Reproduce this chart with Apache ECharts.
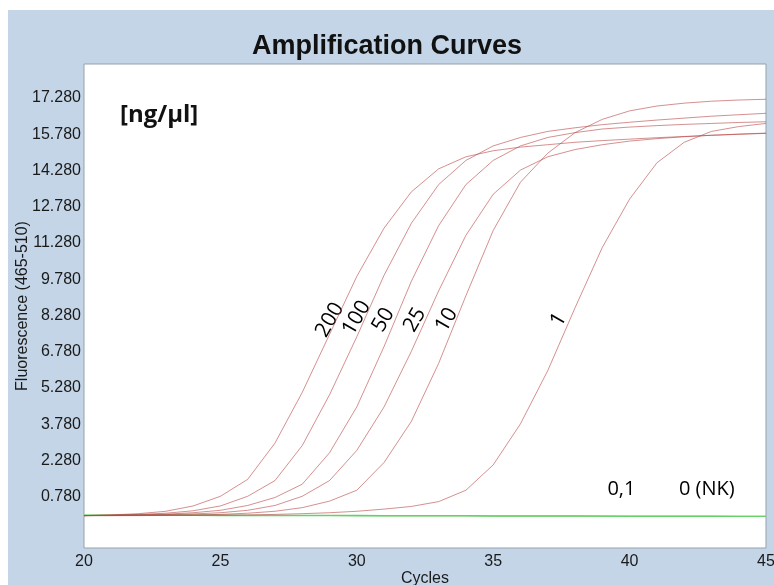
<!DOCTYPE html>
<html>
<head>
<meta charset="utf-8">
<script src="https://cdn.jsdelivr.net/npm/echarts@6/dist/echarts.min.js"></script>
<style>
html,body{margin:0;padding:0;background:#fff;}
#chart{width:774px;height:585px;}
</style>
</head>
<body>
<div id="chart"></div>
<script>
// ---- data ----
const cycles = [20,21,22,23,24,25,26,27,28,29,30,31,32,33,34,35,36,37,38,39,40,41,42,43,44,45];
const c200 = [0.00,0.03,0.08,0.18,0.40,0.80,1.50,3.00,5.10,7.50,9.90,11.90,13.40,14.35,14.85,15.10,15.25,15.35,15.45,15.52,15.58,15.64,15.69,15.74,15.78,15.82];
const c100 = [0.00,0.02,0.05,0.10,0.20,0.40,0.80,1.45,2.90,5.00,7.40,9.95,12.10,13.70,14.70,15.30,15.65,15.90,16.05,16.18,16.28,16.37,16.45,16.53,16.59,16.65];
const c50  = [0.00,0.01,0.03,0.06,0.12,0.22,0.42,0.75,1.30,2.60,4.50,7.00,9.70,12.00,13.70,14.70,15.30,15.65,15.85,16.00,16.08,16.14,16.19,16.23,16.27,16.30];
const c25  = [0.00,0.01,0.02,0.04,0.07,0.12,0.22,0.42,0.80,1.45,2.70,4.50,6.80,9.30,11.60,13.30,14.30,14.85,15.15,15.35,15.50,15.60,15.68,15.74,15.79,15.83];
const c10  = [0.00,0.00,0.01,0.02,0.03,0.05,0.10,0.18,0.33,0.60,1.05,2.20,3.90,6.30,9.10,11.80,13.80,15.00,15.85,16.40,16.75,16.95,17.07,17.15,17.20,17.23];
const c1   = [0.00,0.00,0.00,0.01,0.01,0.02,0.03,0.05,0.08,0.12,0.18,0.27,0.38,0.58,1.05,2.10,3.80,6.00,8.60,11.10,13.10,14.60,15.45,15.90,16.10,16.23];
const c01  = [0.02,0.02,0.02,0.02,0.02,0.02,0.01,0.01,0.01,0.01,0.01,0.00,0.00,0.00,0.00,-0.01,-0.01,-0.01,-0.01,-0.02,-0.02,-0.02,-0.02,-0.02,-0.03,-0.03];
const cNK  = [0.01,0.01,0.01,0.01,0.01,0.00,0.00,0.00,0.00,0.00,-0.01,-0.01,-0.01,-0.01,-0.01,-0.02,-0.02,-0.02,-0.02,-0.02,-0.03,-0.03,-0.03,-0.03,-0.03,-0.03];
const yTicks = [0.78,2.28,3.78,5.28,6.78,8.28,9.78,11.28,12.78,14.28,15.78,17.28];
const xTicks = [20,25,30,35,40,45];
const curveNames = ['200','100','50','25','10','1'];
const curveAnchors = [[29.01,8.10],[29.99,8.18],[30.97,8.10],[32.13,8.10],[33.29,8.10],[37.40,8.10]];
const flatNames = ['0,1','0 (NK)'];
const flatAnchors = [[39.70,1.11],[42.83,1.11]];

const pair = arr => cycles.map((c,i)=>[c,arr[i]]);
const redLine = {width:1, color:'rgba(185,70,70,0.6)'};
const greenLine = {width:1.4, color:'#66d166'};

const chart = echarts.init(document.getElementById('chart'), null, {renderer:'canvas'});
const font = 'Liberation Sans, Arial, sans-serif';
const lblFont = '"Open Sans", sans-serif';
const option = {
  animation:false,
  backgroundColor:'#c4d5e7',
  title:{text:'Amplification Curves', left:'center', top:28,
    textStyle:{fontFamily:font, fontWeight:'bold', fontSize:27, color:'#111'}},
  graphic:[
    {type:'rect', left:0, top:0, shape:{width:774, height:10}, style:{fill:'#fff'}, silent:true},
    {type:'rect', left:0, top:0, shape:{width:8, height:585}, style:{fill:'#fff'}, silent:true},
    {type:'text', left:120, top:103, style:{text:'[ng/µl]', font:'bold 24px "Open Sans", sans-serif', fill:'#111'}, silent:true, z:10}
  ],
  grid:{left:84, right:8, top:64, bottom:37, outerBoundsMode:'none', containLabel:false,
    show:true, backgroundColor:'#fff', borderColor:'#97a1aa', borderWidth:1},
  xAxis:{type:'value', min:20, max:45, interval:5,
    axisLine:{show:false}, axisTick:{show:false}, splitLine:{show:false},
    axisLabel:{fontSize:16, margin:6, color:'#1a1a1a', fontFamily:font,
      customValues:xTicks},
    name:'Cycles', nameLocation:'middle', nameGap:23, nameMoveOverlap:false,
    nameTextStyle:{fontSize:16, color:'#1a1a1a', fontFamily:font}},
  yAxis:{type:'value', min:-1.34, max:18.69,
    axisLine:{show:false}, axisTick:{show:false}, splitLine:{show:false},
    axisLabel:{customValues:yTicks, formatter:v=>v.toFixed(3), fontSize:16, margin:3, color:'#1a1a1a', fontFamily:font},
    name:'Fluorescence (465-510)', nameLocation:'middle', nameGap:53, nameMoveOverlap:false,
    nameTextStyle:{fontSize:16, color:'#1a1a1a', fontFamily:font}},
  series:[
    {type:'line', name:'0,1', data:pair(c01), symbol:'none', lineStyle:greenLine, silent:true},
    {type:'line', name:'0 (NK)', data:pair(cNK), symbol:'none', lineStyle:greenLine, silent:true},
    {type:'line', name:'200', data:pair(c200), symbol:'none', lineStyle:redLine, silent:true},
    {type:'line', name:'100', data:pair(c100), symbol:'none', lineStyle:redLine, silent:true},
    {type:'line', name:'50', data:pair(c50), symbol:'none', lineStyle:redLine, silent:true},
    {type:'line', name:'25', data:pair(c25), symbol:'none', lineStyle:redLine, silent:true},
    {type:'line', name:'10', data:pair(c10), symbol:'none', lineStyle:redLine, silent:true},
    {type:'line', name:'1', data:pair(c1), symbol:'none', lineStyle:redLine, silent:true},
    {type:'scatter', name:'curve labels', silent:true, symbolSize:1, itemStyle:{color:'rgba(0,0,0,0)'},
      data:curveNames.map((n,i)=>({name:n, value:curveAnchors[i]})),
      label:{show:true, position:'inside', formatter:'{b}', rotate:60, fontSize:21, opacity:1,
        fontFamily:lblFont, color:'#000'}},
    {type:'scatter', name:'flat labels', silent:true, symbolSize:1, itemStyle:{color:'rgba(0,0,0,0)'},
      data:flatNames.map((n,i)=>({name:n, value:flatAnchors[i]})),
      label:{show:true, position:'inside', formatter:'{b}', fontSize:20, opacity:1,
        fontFamily:lblFont, color:'#000'}}
  ]
};
chart.setOption(option);
</script>
</body>
</html>
